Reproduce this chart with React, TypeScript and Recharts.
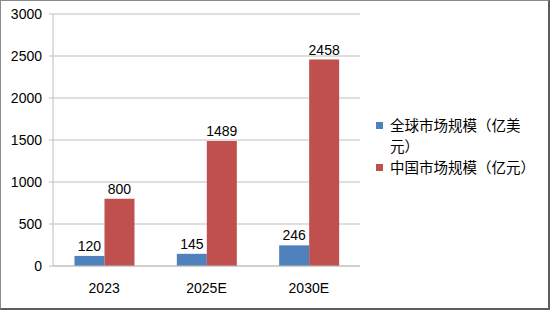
import React from "react";
import { BarChart, Bar, XAxis, YAxis, CartesianGrid, LabelList } from "recharts";

// market size, 2023 actual vs. forecasts
const years = ["2023", "2025E", "2030E"];
const globalMarket = [120, 145, 246];
const chinaMarket = [800, 1489, 2458];
const yTicks = [0, 500, 1000, 1500, 2000, 2500, 3000];
const seriesNames = ["全球市场规模（亿美元）", "中国市场规模（亿元）"];
const seriesColors = ["#4F81BD", "#C0504D"];

const data = years.map((year, i) => ({
  year,
  global: globalMarket[i],
  china: chinaMarket[i],
}));

const numFont = "'Liberation Sans', Arial, sans-serif";
const cjkFont = "'Noto Sans CJK SC', sans-serif";

const App = () => {
  return (
    <div style={{ position: "absolute", left: 0, top: 0, width: 550, height: 310, background: "#fff" }}>
      <BarChart
        width={550}
        height={310}
        data={data}
        margin={{ top: 14, right: 190, left: 0, bottom: 0 }}
        barCategoryGap="21%"
        barGap={0}
      >
        <CartesianGrid vertical={false} stroke="#bfbfbf" />
        <XAxis
          dataKey="year"
          height={44}
          axisLine={{ stroke: "#bfbfbf" }}
          tickLine={false}
          tickSize={6}
          tickMargin={11}
          tick={{ fill: "#000", fontSize: 14, fontFamily: numFont }}
        />
        <YAxis
          width={53}
          domain={[0, 3000]}
          ticks={yTicks}
          axisLine={{ stroke: "#bfbfbf" }}
          tickLine={{ stroke: "#bfbfbf" }}
          tickSize={4}
          tickMargin={7}
          tick={{ fill: "#000", fontSize: 14, fontFamily: numFont }}
        />
        <Bar dataKey="global" name={seriesNames[0]} fill={seriesColors[0]} isAnimationActive={false}>
          <LabelList dataKey="global" position="top" offset={5} fill="#000" fontSize={14} fontFamily={numFont} />
        </Bar>
        <Bar dataKey="china" name={seriesNames[1]} fill={seriesColors[1]} isAnimationActive={false}>
          <LabelList dataKey="china" position="top" offset={5} fill="#000" fontSize={14} fontFamily={numFont} />
        </Bar>
      </BarChart>

      {/* legend */}
      <div style={{ position: "absolute", left: 376, top: 114, width: 165, fontFamily: cjkFont, fontSize: 14.5, lineHeight: "21px", color: "#000" }}>
        {seriesNames.map((name, i) => (
          <div key={name} style={{ display: "flex", alignItems: "flex-start" }}>
            <span style={{ display: "inline-block", width: 7, height: 7, marginTop: 8, marginRight: 7, flexShrink: 0, background: seriesColors[i] }} />
            <span style={{ width: 150 }}>{name}</span>
          </div>
        ))}
      </div>

      {/* frame */}
      <div
        style={{
          position: "absolute",
          inset: 0,
          boxSizing: "border-box",
          borderTop: "1px solid #8a8a8a",
          borderLeft: "1px solid #8a8a8a",
          borderRight: "2px solid #5e5e5e",
          borderBottom: "2px solid #5e5e5e",
          pointerEvents: "none",
        }}
      />
    </div>
  );
};

export default App;
